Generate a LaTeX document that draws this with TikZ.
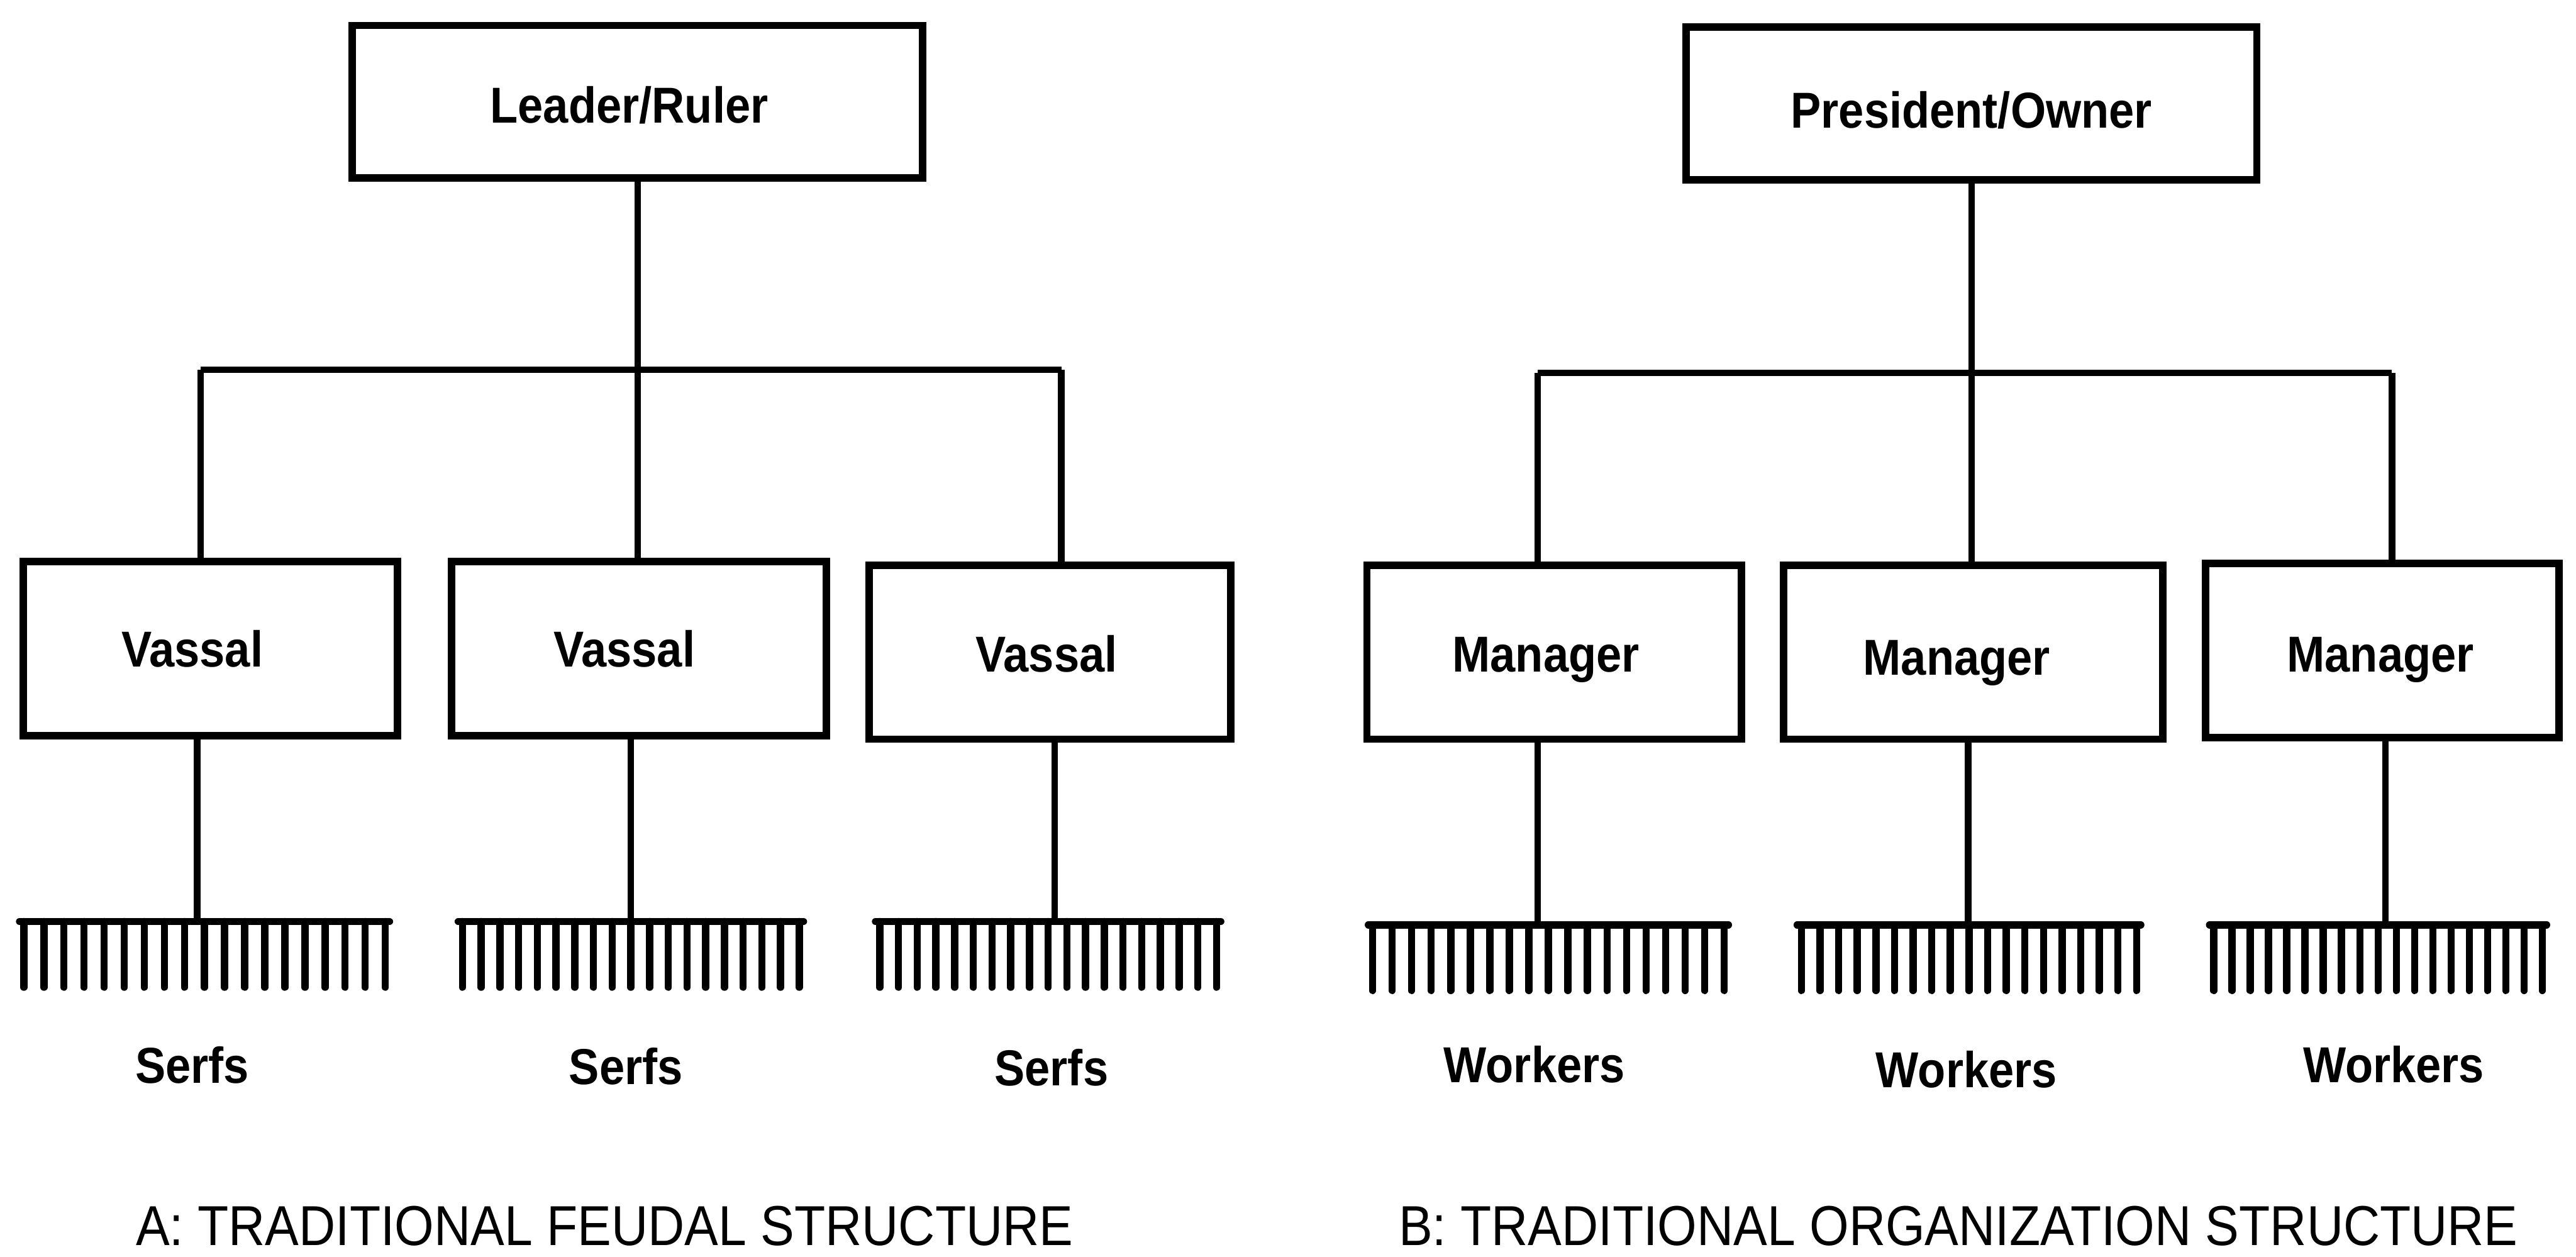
\documentclass[tikz,border=0pt]{standalone}
\usepackage{fontspec}
\setmainfont{Liberation Sans}
\newfontfamily\condfont[FakeStretch=0.9]{Liberation Sans}
\begin{document}
\begin{tikzpicture}[x=0.02cm,y=-0.02cm]
\tikzset{
  box/.style={draw, line width=2.6pt, inner sep=0pt},
  topbox/.style={box, minimum width=6.95cm, minimum height=1.86cm},
  midbox/.style={box, minimum width=4.56cm, minimum height=2.12cm},
  conn/.style={line width=2.2pt},
  combbar/.style={line width=2.6pt, line cap=round},
  tooth/.style={line width=2.5pt, line cap=round},
  lbl/.style={font=\condfont\bfseries\fontsize{17.5}{20}\selectfont, inner sep=0pt, anchor=base},
  captxt/.style={font=\condfont\fontsize{19.5}{23}\selectfont, inner sep=0pt, anchor=base}
}
\newcommand{\mycomb}[3]{%
  \draw[combbar] (#1,#3) -- (#2,#3);
  \foreach \i in {0,...,18} {\draw[tooth] ({#1+2.5+(#2-#1-5)*\i/18},#3) -- ++(0,40);}
}
\useasboundingbox (0,0) rectangle (1568,765);

% ---------- A: feudal ----------
\node[topbox] (lead) at (388,62) {};
\node[lbl] (leadt) at (383,75) {Leader/Ruler};
\coordinate (barA) at (388,225);
\coordinate (barAL) at (122,225);
\coordinate (barAR) at (646,225);
\node[midbox] (v1) at (128,395) {};
\node[midbox] (v2) at (389,395) {};
\node[midbox, minimum width=4.4cm] (v3) at (639,397) {};
\node[lbl] (v1t) at (117,406) {Vassal};
\node[lbl] (v2t) at (380,406) {Vassal};
\node[lbl] (v3t) at (637,409) {Vassal};
\draw[conn] (lead.south) -- (barA);
\draw[conn] (barAL) -- (barAR);
\draw[conn] (barAL) -- (barAL |- v1.north);
\draw[conn] (barA) -- (barA |- v2.north);
\draw[conn] (barAR) -- (barAR |- v3.north);
\coordinate (cA1) at (120,560);
\coordinate (cA2) at (384,560);
\coordinate (cA3) at (642,560);
\draw[conn] (cA1 |- v1.south) -- (cA1);
\draw[conn] (cA2 |- v2.south) -- (cA2);
\draw[conn] (cA3 |- v3.south) -- (cA3);
\mycomb{12}{237}{561}
\mycomb{279}{489}{561}
\mycomb{533}{743}{561}
\node[lbl] (s1) at (117,659.5) {Serfs};
\node[lbl] (s2) at (381,660) {Serfs};
\node[lbl] (s3) at (640,661) {Serfs};
\node[captxt] (capA) at (368,758) {A: TRADITIONAL FEUDAL STRUCTURE};

% ---------- B: organization ----------
\node[topbox] (pres) at (1200,63) {};
\node[lbl] (prest) at (1200,78) {President/Owner};
\coordinate (barB) at (1200,227);
\coordinate (barBL) at (936,227);
\coordinate (barBR) at (1456,227);
\node[midbox] (m1) at (946,397) {};
\node[midbox, minimum width=4.62cm] (m2) at (1201,397) {};
\node[midbox, minimum width=4.3cm] (m3) at (1450,396) {};
\node[lbl] (m1t) at (941,409) {Manager};
\node[lbl] (m2t) at (1191,411) {Manager};
\node[lbl] (m3t) at (1449,409) {Manager};
\draw[conn] (pres.south) -- (barB);
\draw[conn] (barBL) -- (barBR);
\draw[conn] (barBL) -- (barBL |- m1.north);
\draw[conn] (barB) -- (barB |- m2.north);
\draw[conn] (barBR) -- (barBR |- m3.north);
\coordinate (cB1) at (936,562);
\coordinate (cB2) at (1198,562);
\coordinate (cB3) at (1452,562);
\draw[conn] (cB1 |- m1.south) -- (cB1);
\draw[conn] (cB2 |- m2.south) -- (cB2);
\draw[conn] (cB3 |- m3.south) -- (cB3);
\mycomb{833}{1052}{563}
\mycomb{1094}{1303}{563}
\mycomb{1345}{1550}{563}
\node[lbl] (w1) at (934,659) {Workers};
\node[lbl] (w2) at (1197,662) {Workers};
\node[lbl] (w3) at (1457,659) {Workers};
\node[captxt] (capB) at (1192,758) {B: TRADITIONAL ORGANIZATION STRUCTURE};
\end{tikzpicture}
\end{document}
